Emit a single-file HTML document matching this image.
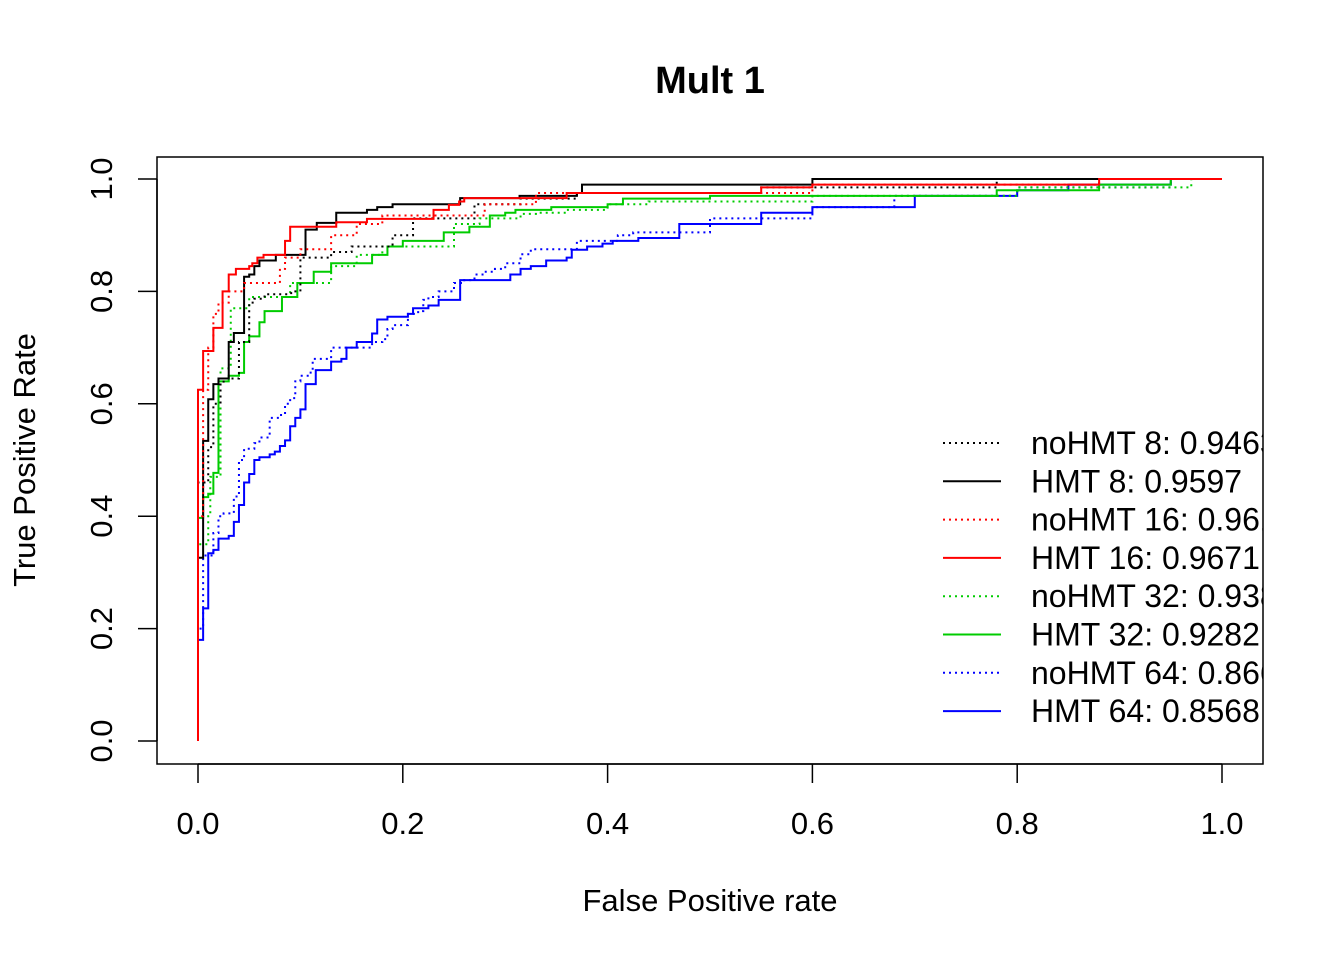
<!DOCTYPE html>
<html><head><meta charset="utf-8"><style>
html,body{margin:0;padding:0;background:#fff;}
svg text{font-family:"Liberation Sans",Arial,sans-serif;}
</style></head><body>
<svg id="chart" width="1344" height="960" viewBox="0 0 1344 960" xmlns="http://www.w3.org/2000/svg">
<defs><clipPath id="plotclip"><rect x="157" y="157" width="1106" height="607"/></clipPath></defs>
<rect width="1344" height="960" fill="#fff"/>
<text x="710" y="93" font-size="38" font-weight="bold" text-anchor="middle">Mult 1</text>
<rect x="157" y="157" width="1106" height="607" fill="none" stroke="#000" stroke-width="1.5"/>
<g id="axes"></g>
<g id="series" clip-path="url(#plotclip)"></g>
<g id="legend" clip-path="url(#plotclip)"></g>
<text x="710" y="911" font-size="31" text-anchor="middle">False Positive rate</text>
<text x="0" y="0" font-size="31" text-anchor="middle" transform="translate(35,460) rotate(-90)">True Positive Rate</text>
</svg>
<script>
const xTicks=[0,0.2,0.4,0.6,0.8,1.0];
const xTickLabels=["0.0","0.2","0.4","0.6","0.8","1.0"];
const yTicks=[0,0.2,0.4,0.6,0.8,1.0];
const yTickLabels=["0.0","0.2","0.4","0.6","0.8","1.0"];
const seriesNames=["noHMT 8: 0.9463","HMT 8: 0.9597","noHMT 16: 0.9614","HMT 16: 0.9671","noHMT 32: 0.9381","HMT 32: 0.9282","noHMT 64: 0.8663","HMT 64: 0.8568"];
const seriesColors=["#000","#000","#f00","#f00","#0c0","#0c0","#00f","#00f"];
const seriesDotted=[true,false,true,false,true,false,true,false];
const noHMT8=[[0,0.46],[0.005,0.46],[0.01,0.523],[0.015,0.6],[0.022,0.637],[0.025,0.645],[0.04,0.71],[0.05,0.78],[0.055,0.787],[0.065,0.795],[0.091,0.8],[0.1,0.86],[0.13,0.87],[0.15,0.88],[0.19,0.9],[0.21,0.93],[0.27,0.955],[0.315,0.965],[0.37,0.975],[0.55,0.985],[0.78,1],[1,1]];
const HMT8=[[0,0.326],[0.005,0.534],[0.01,0.608],[0.015,0.635],[0.02,0.645],[0.03,0.71],[0.035,0.726],[0.045,0.826],[0.05,0.83],[0.055,0.845],[0.06,0.855],[0.076,0.865],[0.105,0.91],[0.116,0.922],[0.135,0.94],[0.165,0.945],[0.175,0.95],[0.19,0.955],[0.256,0.966],[0.314,0.97],[0.37,0.975],[0.375,0.99],[0.6,1],[1,1]];
const noHMT16=[[0,0.4],[0.005,0.625],[0.01,0.7],[0.015,0.76],[0.02,0.78],[0.03,0.8],[0.045,0.815],[0.08,0.84],[0.085,0.86],[0.1,0.875],[0.13,0.9],[0.155,0.92],[0.18,0.935],[0.28,0.955],[0.33,0.975],[0.6,0.99],[0.88,1],[1,1]];
const HMT16=[[0,0.625],[0.005,0.694],[0.015,0.735],[0.024,0.8],[0.03,0.83],[0.037,0.84],[0.05,0.845],[0.053,0.85],[0.058,0.86],[0.064,0.865],[0.085,0.89],[0.09,0.915],[0.135,0.923],[0.165,0.929],[0.23,0.945],[0.245,0.954],[0.255,0.96],[0.26,0.966],[0.36,0.975],[0.55,0.985],[0.6,0.99],[0.88,1],[1,1]];
const noHMT32=[[0,0.35],[0.01,0.4],[0.012,0.47],[0.022,0.663],[0.032,0.77],[0.05,0.79],[0.09,0.815],[0.13,0.845],[0.155,0.865],[0.18,0.88],[0.25,0.92],[0.275,0.93],[0.315,0.938],[0.33,0.94],[0.36,0.945],[0.4,0.955],[0.44,0.96],[0.6,0.97],[0.8,0.985],[0.97,1],[1,1]];
const HMT32=[[0,0.18],[0,0.397],[0.005,0.434],[0.01,0.44],[0.015,0.477],[0.02,0.64],[0.03,0.65],[0.04,0.655],[0.045,0.71],[0.05,0.72],[0.06,0.745],[0.065,0.765],[0.082,0.79],[0.097,0.815],[0.113,0.835],[0.13,0.85],[0.17,0.865],[0.185,0.88],[0.2,0.89],[0.24,0.905],[0.265,0.915],[0.285,0.935],[0.3,0.94],[0.31,0.945],[0.345,0.95],[0.4,0.955],[0.415,0.965],[0.5,0.97],[0.78,0.98],[0.88,0.99],[0.95,1],[1,1]];
const noHMT64=[[0,0.2],[0.005,0.33],[0.015,0.37],[0.02,0.4],[0.025,0.405],[0.035,0.435],[0.04,0.5],[0.045,0.52],[0.055,0.53],[0.06,0.54],[0.07,0.575],[0.08,0.58],[0.085,0.6],[0.09,0.61],[0.095,0.64],[0.1,0.65],[0.11,0.66],[0.112,0.68],[0.13,0.7],[0.17,0.71],[0.18,0.715],[0.185,0.733],[0.19,0.74],[0.205,0.76],[0.215,0.765],[0.22,0.785],[0.225,0.79],[0.235,0.8],[0.25,0.815],[0.26,0.82],[0.27,0.83],[0.28,0.835],[0.29,0.84],[0.3,0.85],[0.315,0.866],[0.325,0.875],[0.37,0.89],[0.41,0.9],[0.425,0.905],[0.5,0.93],[0.6,0.95],[0.68,0.97],[0.8,0.985],[0.95,1],[1,1]];
const HMT64=[[0,0.18],[0.005,0.236],[0.01,0.334],[0.015,0.34],[0.02,0.36],[0.03,0.365],[0.035,0.39],[0.04,0.42],[0.045,0.46],[0.05,0.475],[0.055,0.5],[0.06,0.505],[0.07,0.51],[0.075,0.515],[0.08,0.525],[0.085,0.535],[0.09,0.56],[0.095,0.575],[0.1,0.59],[0.105,0.635],[0.115,0.66],[0.13,0.675],[0.14,0.68],[0.145,0.7],[0.155,0.71],[0.17,0.725],[0.175,0.75],[0.185,0.755],[0.205,0.76],[0.21,0.77],[0.225,0.775],[0.235,0.785],[0.256,0.82],[0.305,0.83],[0.315,0.84],[0.325,0.845],[0.34,0.855],[0.36,0.86],[0.365,0.874],[0.38,0.88],[0.395,0.885],[0.405,0.89],[0.43,0.895],[0.47,0.92],[0.55,0.94],[0.6,0.95],[0.7,0.97],[0.8,0.98],[0.85,0.99],[0.95,1],[1,1]];
const seriesData=[noHMT8,HMT8,noHMT16,HMT16,noHMT32,HMT32,noHMT64,HMT64];
const seriesKeys=["nohmt-8","hmt-8","nohmt-16","hmt-16","nohmt-32","hmt-32","nohmt-64","hmt-64"];

const NS="http://www.w3.org/2000/svg";
function xs(v){return 198+v*1024;}
function ys(v){return 741-v*562;}
function mk(tag,attrs,parent){const e=document.createElementNS(NS,tag);for(const k in attrs)e.setAttribute(k,attrs[k]);parent.appendChild(e);return e;}
const axes=document.getElementById('axes');
const xl=mk('line',{x1:xs(0),x2:xs(1),y1:764,y2:764,stroke:'#000','stroke-width':1.5},axes);


xTicks.forEach((t,i)=>{
  const tk=mk('line',{x1:xs(t),x2:xs(t),y1:764,y2:783,stroke:'#000','stroke-width':1.5},axes);
  
  
  const tx=mk('text',{x:xs(t),y:834,'font-size':31,'text-anchor':'middle'},axes);
  
  
  tx.textContent=xTickLabels[i];
});
const yl=mk('line',{x1:157,x2:157,y1:ys(0),y2:ys(1),stroke:'#000','stroke-width':1.5},axes);


yTicks.forEach((t,i)=>{
  const tk=mk('line',{x1:138,x2:157,y1:ys(t),y2:ys(t),stroke:'#000','stroke-width':1.5},axes);
  
  
  const tx=mk('text',{x:0,y:0,'font-size':31,'text-anchor':'middle',transform:'translate(112,'+ys(t)+') rotate(-90)'},axes);
  
  
  tx.textContent=yTickLabels[i];
});
const sg=document.getElementById('series');
const drawOrder=[6,7,4,5,0,1,2,3];
drawOrder.forEach(i=>{
  const pts=seriesData[i];
  let d='M'+xs(0)+','+ys(0);
  let py=0;
  pts.forEach(p=>{d+=' L'+xs(p[0])+','+ys(py)+' L'+xs(p[0])+','+ys(p[1]);py=p[1];});
  const a={d:d,fill:'none',stroke:seriesColors[i],'stroke-width':2};
  if(seriesDotted[i])a['stroke-dasharray']='2,4';
  const pe=mk('path',a,sg);
  
  
});
const lg=document.getElementById('legend');
seriesNames.forEach((n,i)=>{
  const y=443+i*38.3;
  const a={x1:943,x2:1001,y1:y,y2:y,stroke:seriesColors[i],'stroke-width':2};
  if(seriesDotted[i])a['stroke-dasharray']='2,4';
  const ln=mk('line',a,lg);
  
  
  const tx=mk('text',{x:1031,y:y+11,'font-size':32},lg);
  
  
  tx.textContent=n;
});
</script>
</body></html>
